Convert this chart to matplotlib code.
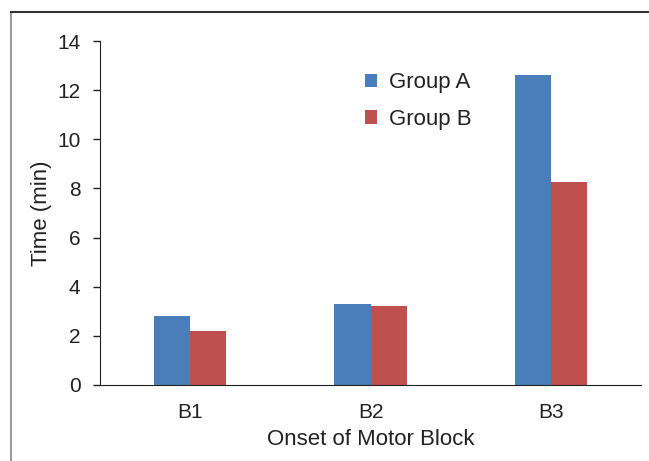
import matplotlib
matplotlib.use("Agg")
from matplotlib import pyplot as plt
from matplotlib.lines import Line2D
import numpy as np

plt.rcParams["font.family"] = ["Liberation Sans", "DejaVu Sans"]

# Onset of motor block times (min)
categories = ["B1", "B2", "B3"]
group_a = [2.8, 3.3, 12.6]
group_b = [2.2, 3.2, 8.25]

blue = "#4A7EBB"
red = "#C0504D"
text_color = "#222222"

fig = plt.figure(figsize=(6.49, 4.61), dpi=100)
ax = fig.add_axes([0.154, 0.165, 0.834, 0.746])

x = np.arange(len(categories))
width = 0.2
ax.bar(x - width / 2, group_a, width, color=blue, label="Group A")
ax.bar(x + width / 2, group_b, width, color=red, label="Group B")

ax.set_xlim(-0.5, len(categories) - 0.5)
ax.set_ylim(0, 14)
ax.set_yticks(range(0, 15, 2))
ax.set_xticks(x)
ax.set_xticklabels(categories)

tick_size = 15
label_size = 16
ax.tick_params(axis="y", labelsize=tick_size, colors=text_color, length=5, width=1, pad=9)
ax.tick_params(axis="x", labelsize=tick_size, colors=text_color, length=0, pad=13)
ax.set_ylabel("Time (min)", fontsize=label_size, color=text_color, labelpad=4)
ax.set_xlabel("Onset of Motor Block", fontsize=label_size, color=text_color, labelpad=5)

for side in ["top", "right"]:
    ax.spines[side].set_visible(False)
ax.spines["left"].set_color("#222222")
ax.spines["bottom"].set_color("#222222")

leg = ax.legend(loc="upper left", bbox_to_anchor=(0.532, 0.887), bbox_transform=fig.transFigure,
                frameon=False, fontsize=label_size, handlelength=0.54, handleheight=0.54,
                labelspacing=0.71, handletextpad=0.54)
for t in leg.get_texts():
    t.set_color(text_color)

# frame around the picture (left and top edges)
fig.add_artist(Line2D([0.017, 0.017], [0.0, 0.974], color="#999999", lw=1.5))
fig.add_artist(Line2D([0.017, 1.0], [0.974, 0.974], color="#333333", lw=1.5))

plt.savefig("out.png", dpi=100)
